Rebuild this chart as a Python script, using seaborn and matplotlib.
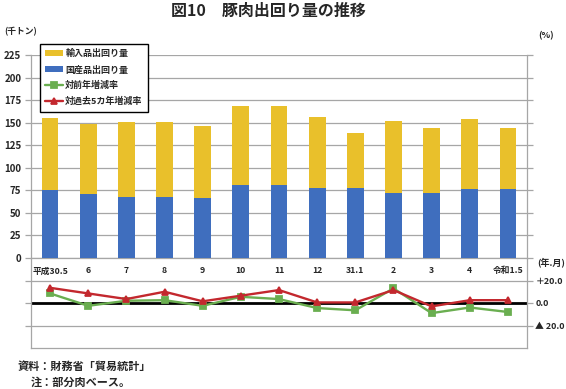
import pandas as pd
import seaborn as sns
import matplotlib.pyplot as plt
from matplotlib.ticker import FixedLocator


# data
months = ["平成30.5", "6", "7", "8", "9", "10", "11", "12", "31.1", "2", "3", "4", "令和1.5"]
domestic = [75, 70.5, 68, 68, 67, 81, 81, 78, 78, 71.5, 71.5, 76, 76]
imported = [80, 78.5, 82.5, 82.5, 79, 88, 88, 78, 60, 80, 72.5, 78, 68]
yoy = [8.5, -2.5, 2, 2.5, -2.5, 5.5, 3.5, -4.5, -6.5, 13, -9, -4, -8]
vs5yr = [13.5, 8.5, 3.5, 10, 1.5, 6.5, 11.5, 0.5, 0.5, 11.5, -3, 2.5, 2.5]

left_ticks = [0, 25, 50, 75, 100, 125, 150, 175, 200, 225]
right_ticks = [20, 0, -20]
right_labels = ["＋20.0", "0.0", "▲ 20.0"]

# esthetics
sns.set_style("white")
plt.rcParams["font.family"] = ["Noto Sans CJK JP", "DejaVu Sans"]
colors = {
    "imported": "#E9C02B",  # yellow
    "domestic": "#3F6EBE",  # blue
    "yoy": "#6AAE50",       # green
    "vs5yr": "#C3282E",     # red
}
grid_c = "#A6A6A6"

df = pd.DataFrame({"month": months, "domestic": domestic, "imported": imported})
df["total"] = df["domestic"] + df["imported"]

W, H = 566, 389
fig = plt.figure(figsize=(W / 100, H / 100), dpi=100)
ax = fig.add_axes([31 / W, 1 - 258 / H, 496 / W, 203 / H])
ax2 = fig.add_axes([31 / W, 1 - 348 / H, 496 / W, 90 / H])
ax.set_zorder(3)
ax2.patch.set_alpha(0)

# stacked bars: total (yellow) behind, domestic (blue) in front
sns.barplot(data=df, x="month", y="total", color=colors["imported"], width=0.44,
            saturation=1, linewidth=0, ax=ax, label="輸入品出回り量", zorder=3)
sns.barplot(data=df, x="month", y="domestic", color=colors["domestic"], width=0.44,
            saturation=1, linewidth=0, ax=ax, label="国産品出回り量", zorder=3)

ax.set_xlim(-0.5, len(months) - 0.5)
ax.set_ylim(0, 225)
ax.set_xlabel("")
ax.set_ylabel("")
ax.yaxis.set_major_locator(FixedLocator(left_ticks))
ax.yaxis.grid(True, color=grid_c, linewidth=0.9, zorder=0)
ax.set_axisbelow(True)
for s in ["left", "right", "bottom"]:
    ax.spines[s].set_color(grid_c)
    ax.spines[s].set_linewidth(0.9)
ax.spines["top"].set_visible(False)
ax.tick_params(axis="y", which="both", left=True, right=True, length=4, width=0.9,
               color=grid_c, labelsize=7, pad=3, labelright=False)
for t in ax.get_yticklabels():
    t.set_fontweight("bold")

ax.set_xticks(range(len(months)))
ax.set_xticklabels(months, fontsize=6.3, fontweight="bold")
ax.xaxis.set_minor_locator(FixedLocator([i - 0.5 for i in range(len(months) + 1)]))
ax.tick_params(axis="x", which="major", length=0, pad=6)
ax.tick_params(axis="x", which="minor", length=4, width=0.9, color=grid_c, direction="out")

# growth-rate panel
ax2.axhline(0, color="black", linewidth=2, zorder=1.5)
sns.pointplot(x=months, y=yoy, ax=ax2, color=colors["yoy"], markers="s",
              markersize=4.5, linewidth=1.7, label="対前年増減率")
sns.pointplot(x=months, y=vs5yr, ax=ax2, color=colors["vs5yr"], markers="^",
              markersize=5, linewidth=1.7, label="対過去5カ年増減率")
ax2.set_xlim(-0.5, len(months) - 0.5)
ax2.set_ylim(-40, 40)
ax2.set_xlabel("")
ax2.set_ylabel("")
ax2.set_xticks([])
for y in (20, -20):
    ax2.axhline(y, color=grid_c, linewidth=0.9, zorder=0)
ax2.spines["top"].set_visible(False)
for s in ["left", "right", "bottom"]:
    ax2.spines[s].set_color(grid_c)
    ax2.spines[s].set_linewidth(0.9)
ax2.yaxis.tick_right()
ax2.set_yticks(right_ticks)
ax2.set_yticklabels(right_labels, fontsize=6.4, fontweight="bold")
ax2.tick_params(axis="y", which="both", left=True, right=True, length=4, width=0.9,
                color=grid_c, pad=2)

# legend combining both panels (drop seaborn's per-axes legends)
h1, l1 = ax.get_legend_handles_labels()
h2, l2 = ax2.get_legend_handles_labels()
for a in (ax, ax2):
    if a.get_legend() is not None:
        a.get_legend().remove()
leg = fig.legend(h1 + h2, l1 + l2, loc="upper left", bbox_to_anchor=(40 / W, 1 - 44 / H),
                 borderaxespad=0, prop={"weight": "bold", "size": 6.5},
                 frameon=True, fancybox=False, edgecolor="black", framealpha=1,
                 borderpad=0.6, labelspacing=0.75, handlelength=1.9, handleheight=0.6,
                 handletextpad=0.3)
leg.get_frame().set_linewidth(1)

# texts
fig.text(0.475, 1 - 11 / H, "図10　豚肉出回り量の推移", ha="center", va="center",
         fontsize=11.5, fontweight="bold")
fig.text(4 / W, 1 - 32 / H, "(千トン)", ha="left", va="center", fontsize=6.3, fontweight="bold")
fig.text(538 / W, 1 - 36 / H, "(%)", ha="left", va="center", fontsize=6.5, fontweight="bold")
fig.text(537 / W, 1 - 262 / H, "(年.月)", ha="left", va="center", fontsize=6.5, fontweight="bold")
fig.text(18 / W, 1 - 366 / H, "資料：財務省「貿易統計」", ha="left", va="center",
         fontsize=8, fontweight="bold")
fig.text(31 / W, 1 - 382 / H, "注：部分肉ベース。", ha="left", va="center",
         fontsize=8, fontweight="bold")

fig.savefig("out.png", dpi=100)
